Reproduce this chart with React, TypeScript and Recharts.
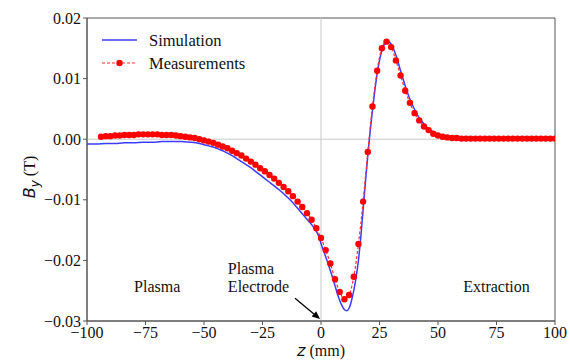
import { LineChart, Line, XAxis, YAxis, ReferenceLine, ReferenceArea, ReferenceDot, Legend, Label } from 'recharts';

const SERIF = 'Liberation Serif, Times New Roman, Times, serif';
const MATH = 'DejaVu Sans, sans-serif';

// simulation, z in mm, By in T
const simZ = [
    -100, -96, -92, -88, -84, -80, -76, -72, -68, -64, -60, -56, -52, -50, -48, -46, -44, -42, -40, -38,
    -36, -34, -32, -30, -28, -26, -24, -22, -20, -18, -16, -14, -12, -10, -8, -6, -4, -2, -1,
    0, 1, 2, 3, 4, 5, 6, 7, 8, 9, 10, 11, 12, 13, 14, 15, 16, 17, 18, 19, 20,
    21, 22, 23, 24, 25, 26, 27, 28, 29, 30, 32, 34, 36, 38, 40, 42, 44, 46, 48, 50,
    52, 54, 56, 58, 60, 64, 68, 72, 76, 80, 84, 88, 92, 96, 100,
];
const simB = [
    -0.0008, -0.0008, -0.0007, -0.0007, -0.0006, -0.0006, -0.0005, -0.0005, -0.0004, -0.0004, -0.0004, -0.0005, -0.0007, -0.0009, -0.0011, -0.0013, -0.0016, -0.0019, -0.0023, -0.0027,
    -0.0032, -0.0037, -0.0042, -0.0047, -0.0053, -0.0059, -0.0065, -0.0071, -0.0077, -0.0083, -0.009, -0.0097, -0.0105, -0.0114, -0.0123, -0.0132, -0.0141, -0.0152, -0.016,
    -0.0172, -0.0183, -0.0194, -0.0205, -0.0217, -0.0229, -0.0242, -0.0255, -0.0266, -0.0275, -0.0281, -0.0283, -0.0279, -0.0267, -0.025, -0.0228, -0.02, -0.0162, -0.0116, -0.007, -0.0027,
    0.0013, 0.0048, 0.008, 0.0108, 0.013, 0.0146, 0.0156, 0.016, 0.0161, 0.0157, 0.0139, 0.0113, 0.0088, 0.0066, 0.0049, 0.0035, 0.0025, 0.0017, 0.0012, 0.0008,
    0.0005, 0.0003, 0.0002, 0.0001, 0.0001, 0.0001, 0.0, 0.0, 0.0, 0.0, 0.0, 0.0, 0.0, 0.0, 0.0,
];

// measurements
const measZ = [
    -94, -92, -90, -88, -86, -84, -82, -80, -78, -76, -74, -72, -70, -68, -66, -64, -62, -60, -58, -56,
    -54, -52, -50, -48, -46, -44, -42, -40, -38, -36, -34, -32, -30, -28, -26, -24, -22, -20, -18, -16,
    -14, -12, -10, -8, -6, -4, -2, 0, 2, 4, 6, 8, 10, 12, 14, 16, 18, 20, 22, 24,
    26, 28, 30, 32, 34, 36, 38, 40, 42, 44, 46, 48, 50, 52, 54, 56, 58, 60, 62, 64,
    66, 68, 70, 72, 74, 76, 78, 80, 82, 84, 86, 88, 90, 92, 94, 96, 98, 100,
];
const measB = [
    0.0004, 0.0005, 0.0005, 0.0006, 0.0006, 0.0007, 0.0007, 0.0007, 0.0008, 0.0008, 0.0008, 0.0008, 0.0008, 0.0007, 0.0007, 0.0007, 0.0006, 0.0005, 0.0004, 0.0003,
    0.0002, 0.0, -0.0002, -0.0004, -0.0006, -0.0009, -0.0012, -0.0015, -0.0019, -0.0023, -0.0027, -0.0032, -0.0037, -0.0042, -0.0048, -0.0053, -0.0059, -0.0065, -0.0072, -0.0079,
    -0.0086, -0.0094, -0.0103, -0.0112, -0.0122, -0.0133, -0.0147, -0.0163, -0.0183, -0.0205, -0.0231, -0.0252, -0.0264, -0.0257, -0.0227, -0.0173, -0.0103, -0.0021, 0.0054, 0.0113,
    0.015, 0.0161, 0.0152, 0.013, 0.0105, 0.008, 0.006, 0.0043, 0.0031, 0.0021, 0.0015, 0.0009, 0.0006, 0.0004, 0.0003, 0.0002, 0.0002, 0.0001, 0.0001, 0.0001,
    0.0001, 0.0001, 0.0001, 0.0001, 0.0001, 0.0001, 0.0001, 0.0001, 0.0001, 0.0001, 0.0001, 0.0001, 0.0001, 0.0001, 0.0001, 0.0001, 0.0001, 0.0001,
];

const xTicks = [-100, -75, -50, -25, 0, 25, 50, 75, 100];
const yTicks = [-0.03, -0.02, -0.01, 0.0, 0.01, 0.02];

const annotations = [
    { z: -70, b: -0.0252, text: 'Plasma', anchor: 'middle' },
    { z: -39.8, b: -0.0223, text: 'Plasma', anchor: 'start' },
    { z: -39.8, b: -0.0252, text: 'Electrode', anchor: 'start' },
    { z: 75, b: -0.0252, text: 'Extraction', anchor: 'middle' },
];

const simData = simZ.map((z, i) => ({ z, b: simB[i] }));
const measData = measZ.map((z, i) => ({ z, b: measB[i] }));

const fmt = (v: number, digits: number) => (v < 0 ? '\u2212' : '') + Math.abs(v).toFixed(digits);

function LegendBox() {
    return (
        <svg width={170} height={50} style={{ display: 'block' }}>
            <line x1={2} y1={12} x2={37} y2={12} stroke="#3b3bff" strokeWidth={1.5} />
            <text x={49} y={17.5} fontFamily={SERIF} fontSize={16.5} fill="#111">Simulation</text>
            <line x1={2} y1={35} x2={37} y2={35} stroke="#ff3030" strokeWidth={1.2} strokeDasharray="3 2" />
            <circle cx={19.5} cy={35} r={3.2} fill="#ff0000" />
            <text x={49} y={40.5} fontFamily={SERIF} fontSize={16.5} fill="#111">Measurements</text>
        </svg>
    );
}

function Arrow(props: any) {
    const { x1, y1, x2, y2 } = props;
    const dx = x2 - x1;
    const dy = y2 - y1;
    const len = Math.sqrt(dx * dx + dy * dy);
    const ux = dx / len;
    const uy = dy / len;
    const hl = 8;
    const hw = 3.5;
    const bx = x2 - ux * hl;
    const by = y2 - uy * hl;
    return (
        <g>
            <line x1={x1} y1={y1} x2={bx} y2={by} stroke="#000" strokeWidth={1.3} />
            <polygon
                points={`${x2},${y2} ${bx - uy * hw},${by + ux * hw} ${bx + uy * hw},${by - ux * hw}`}
                fill="#000"
            />
        </g>
    );
}

export default function App() {
    return (
        <div style={{ position: 'absolute', left: 0, top: 0, width: 570, height: 360, background: '#fff', fontFamily: SERIF }}>
            <LineChart width={570} height={360} margin={{ top: 18, right: 15, bottom: 0, left: 0 }}>
                <XAxis
                    type="number"
                    dataKey="z"
                    domain={[-100, 100]}
                    ticks={xTicks}
                    allowDataOverflow
                    height={39}
                    tickSize={4}
                    tickMargin={2}
                    stroke="#555"
                    tick={{ fill: '#111', fontSize: 16, fontFamily: SERIF }}
                    tickFormatter={(v: number) => fmt(v, 0)}
                >
                    <Label
                        content={({ viewBox }: any) => (
                            <text x={viewBox.x + viewBox.width / 2} y={356} textAnchor="middle" fill="#111" fontSize={16}>
                                <tspan fontFamily={MATH} fontStyle="italic">z</tspan>
                                <tspan fontFamily={SERIF}> (mm)</tspan>
                            </text>
                        )}
                    />
                </XAxis>
                <YAxis
                    type="number"
                    dataKey="b"
                    domain={[-0.03, 0.02]}
                    ticks={yTicks}
                    allowDataOverflow
                    width={87}
                    tickSize={4}
                    tickMargin={2}
                    stroke="#555"
                    tick={{ fill: '#111', fontSize: 16, fontFamily: SERIF }}
                    tickFormatter={(v: number) => fmt(v, 2)}
                >
                    <Label
                        content={() => (
                            <text x={35} y={177} transform="rotate(-90 35 177)" textAnchor="middle" fill="#111" fontSize={16}>
                                <tspan fontFamily={MATH} fontStyle="italic">B</tspan>
                                <tspan fontFamily={MATH} fontStyle="italic" fontSize={12} dy={4}>y</tspan>
                                <tspan fontFamily={SERIF} dy={-4}> (T)</tspan>
                            </text>
                        )}
                    />
                </YAxis>
                <ReferenceArea x1={-100} x2={100} y1={-0.03} y2={0.02} fill="none" stroke="#555" strokeWidth={1} />
                <ReferenceLine x={0} stroke="#c8c8c8" strokeWidth={1} />
                <ReferenceLine y={0} stroke="#c8c8c8" strokeWidth={1} />
                <Legend
                    layout="horizontal"
                    verticalAlign="middle"
                    align="center"
                    content={() => <LegendBox />}
                    wrapperStyle={{ left: 100, top: 28, width: 170, height: 50 }}
                />
                <Line
                    data={simData}
                    dataKey="b"
                    type="monotone"
                    stroke="#3b3bff"
                    strokeWidth={1.5}
                    dot={false}
                    isAnimationActive={false}
                    name="Simulation"
                />
                <Line
                    data={measData}
                    dataKey="b"
                    type="monotone"
                    stroke="#ff3030"
                    strokeWidth={1.2}
                    strokeDasharray="3 2"
                    dot={{ r: 3.2, fill: '#ff0000', stroke: 'none' }}
                    isAnimationActive={false}
                    name="Measurements"
                />
                {annotations.map((a, i) => (
                    <ReferenceDot
                        key={i}
                        x={a.z}
                        y={a.b}
                        r={0}
                        shape={(p: any) => (
                            <text x={p.cx} y={p.cy} textAnchor={a.anchor} fontFamily={SERIF} fontSize={16} fill="#111">
                                {a.text}
                            </text>
                        )}
                    />
                ))}
                <ReferenceLine
                    segment={[{ x: -11.1, y: -0.02625 }, { x: -0.4, y: -0.02967 }]}
                    shape={(p: any) => <Arrow {...p} />}
                />
            </LineChart>
        </div>
    );
}
